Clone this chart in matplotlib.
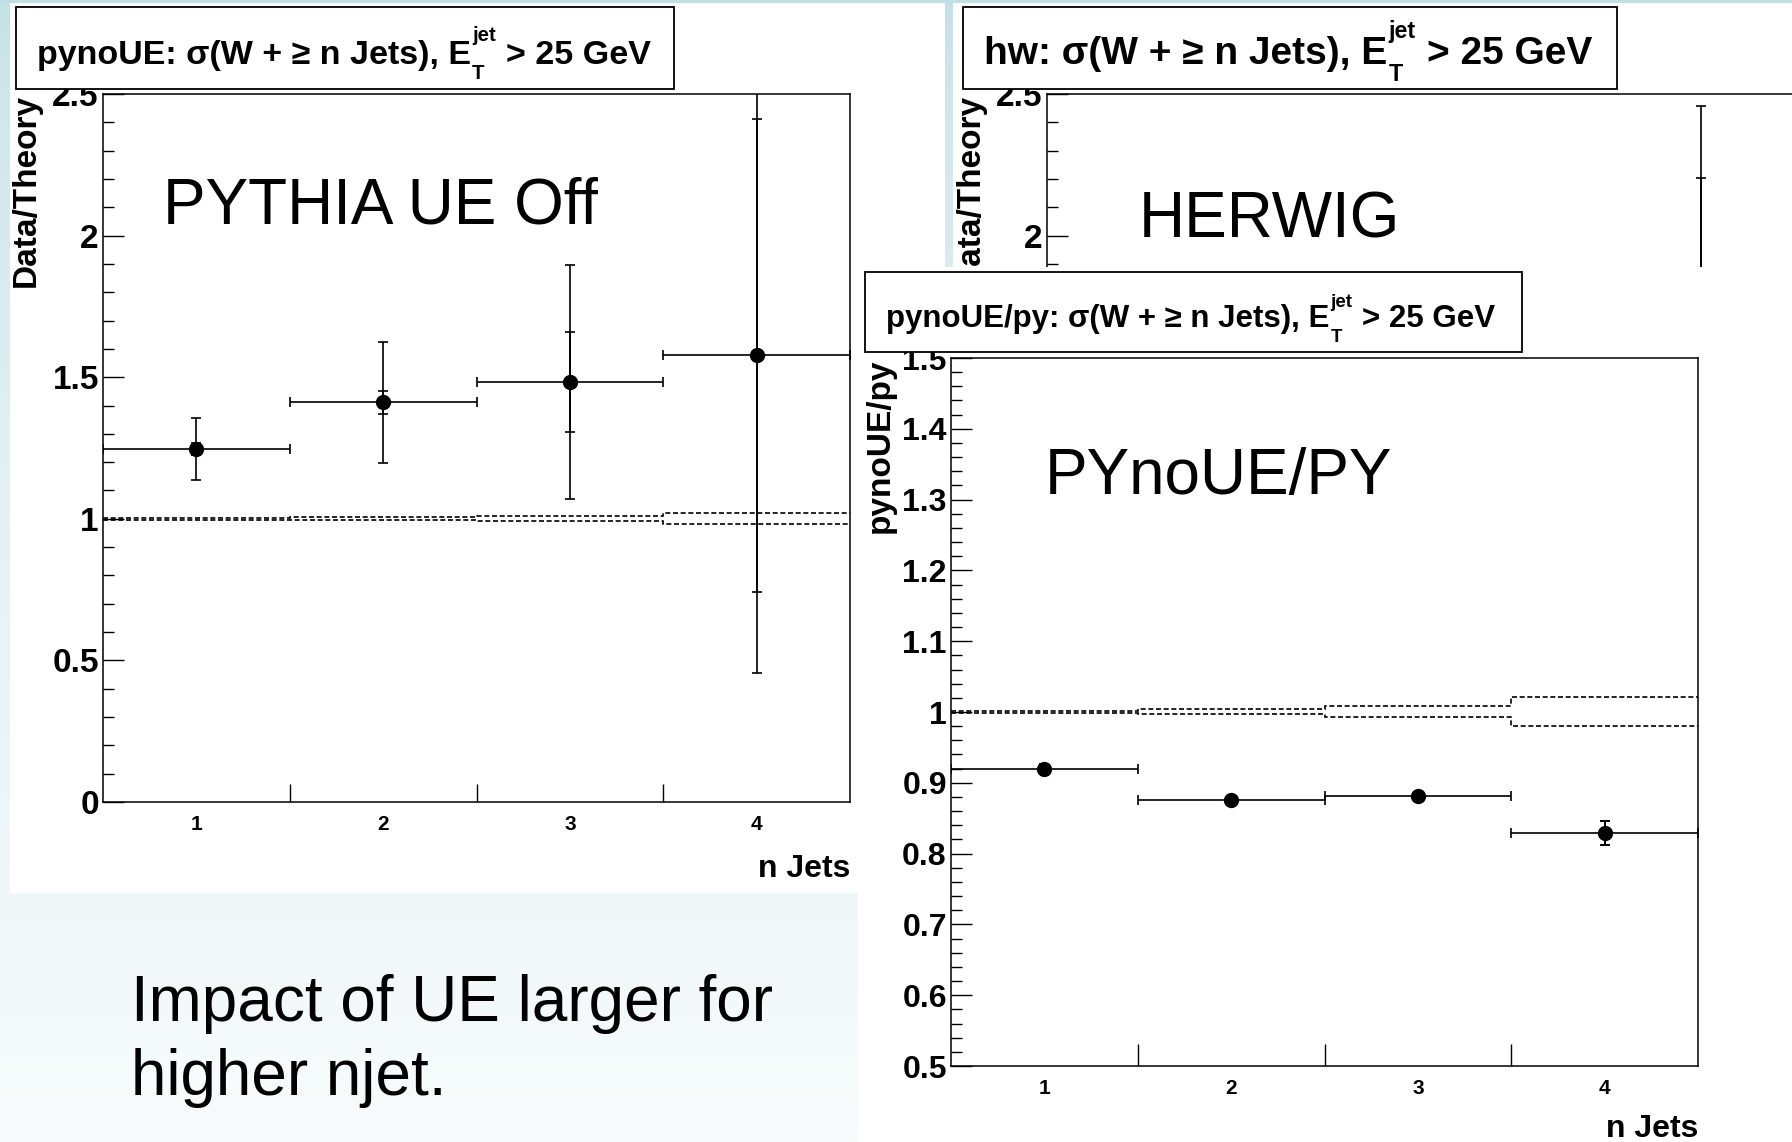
import matplotlib
matplotlib.use('Agg')
import numpy as np
import matplotlib.pyplot as plt
from matplotlib.patches import Rectangle
from matplotlib.ticker import MultipleLocator

W, H = 1792, 1142

# n-jet bins
n_jets = [1, 2, 3, 4]
bin_edges = [0.5, 1.5, 2.5, 3.5, 4.5]
jet_labels = ['1', '2', '3', '4']

# pynoUE: Data/Theory
pyno_ratio = [1.246, 1.411, 1.484, 1.577]
pyno_stat = [0.02, 0.04, 0.177, 0.835]
pyno_tot = [0.109, 0.213, 0.413, 1.121]
pyno_band_hi = [1.003, 1.005, 1.011, 1.020]
pyno_band_lo = [0.997, 0.995, 0.993, 0.980]

# hw: only the 4-jet bar sticks out above the overlaid plot
hw_n = [4]
hw_ratio = [1.80]
hw_stat = [0.404]
hw_tot = [0.656]

# pynoUE/py
ue_ratio = [0.919, 0.876, 0.881, 0.829]
ue_err = [0.007, 0.006, 0.005, 0.017]
ue_band_hi = [1.0015, 1.0047, 1.0085, 1.021]
ue_band_lo = [0.998, 0.9967, 0.9934, 0.980]

big_ticks = [0, 0.5, 1, 1.5, 2, 2.5]
big_labels = ['0', '0.5', '1', '1.5', '2', '2.5']
ue_ticks = [0.5, 0.6, 0.7, 0.8, 0.9, 1.0, 1.1, 1.2, 1.3, 1.4, 1.5]
ue_labels = ['0.5', '0.6', '0.7', '0.8', '0.9', '1', '1.1', '1.2', '1.3', '1.4', '1.5']

plt.rcParams['font.family'] = ['Liberation Sans', 'DejaVu Sans']
plt.rcParams['font.weight'] = 'bold'

fig = plt.figure(figsize=(W / 100, H / 100), dpi=100)


def frac(x0, y0, x1, y1):
    return [x0 / W, 1 - y1 / H, (x1 - x0) / W, (y1 - y0) / H]


def box(x0, y0, x1, y1, z, edge='none', lw=1.3, color='white'):
    r = Rectangle((x0 / W, 1 - y1 / H), (x1 - x0) / W, (y1 - y0) / H,
                  transform=fig.transFigure, facecolor=color, edgecolor=edge,
                  linewidth=lw, zorder=z)
    fig.add_artist(r)


def title_box(x0, y0, x1, y1, head, size, z):
    box(x0, y0, x1, y1, z, edge='black')
    rend = fig.canvas.get_renderer()
    em = size * 100 / 72
    xb = x0 + 21
    yb = y0 + 0.69 * (y1 - y0)
    t1 = fig.text(xb / W, 1 - yb / H, head + ' \u03c3(W + \u2265 n Jets), E',
                  fontsize=size, zorder=z + 0.1)
    xe = t1.get_window_extent(rend).x1 + 1
    small = size * 0.6
    ts = fig.text(xe / W, 1 - (yb + 0.46 * em) / H, 'T', fontsize=small, zorder=z + 0.1)
    tu = fig.text(xe / W, 1 - (yb - 0.66 * em) / H, 'jet', fontsize=small, zorder=z + 0.1)
    xr = max(ts.get_window_extent(rend).x1, tu.get_window_extent(rend).x1)
    fig.text((xr + 0.3 * em) / W, 1 - yb / H, '> 25 GeV', fontsize=size, zorder=z + 0.1)


def root_axes(rect, z, ylim, ticks, labels, minor, ylabel, ysize, xtick_len, ylabel_x, xlabel_y):
    ax = fig.add_axes(frac(*rect))
    ax.set_zorder(z)
    ax.set_facecolor('white')
    ax.set_xlim(0.5, 4.5)
    ax.set_ylim(*ylim)
    ax.set_xticks([1.5, 2.5, 3.5])
    ax.set_xticklabels([])
    ax.set_xticks(n_jets, minor=True)
    ax.set_xticklabels(jet_labels, minor=True)
    ax.tick_params(axis='x', which='major', direction='in', length=xtick_len, width=1)
    ax.tick_params(axis='x', which='minor', length=0, pad=9, labelsize=15)
    ax.set_yticks(ticks)
    ax.set_yticklabels(labels)
    ax.yaxis.set_minor_locator(MultipleLocator(minor))
    ax.tick_params(axis='y', which='major', direction='in', length=15, width=1,
                   labelsize=ysize, pad=3)
    ax.tick_params(axis='y', which='minor', direction='in', length=8, width=1)
    for s in ax.spines.values():
        s.set_linewidth(1.1)
    ax.text(ylabel_x, 1.0, ylabel, rotation=90, ha='center', va='top',
            transform=ax.transAxes, fontsize=24)
    ax.text(1.0, xlabel_y, 'n Jets', ha='right', va='top', transform=ax.transAxes, fontsize=23)
    return ax


def data_points(ax, x, y, stat, tot):
    ax.errorbar(x, y, yerr=tot, xerr=0.5, fmt='o', color='black', ms=10,
                capsize=3.5, elinewidth=1.2, capthick=1.2)
    if stat is not None:
        ax.errorbar(x, y, yerr=stat, fmt='none', ecolor='black', capsize=3.5,
                    elinewidth=1.2, capthick=1.2)


def band(ax, hi, lo):
    for v in (hi, lo):
        ax.stairs(v, bin_edges, baseline=None, color='black', linewidth=1.2,
                  linestyle=(0, (3, 1.6)))


# slide background
bg = fig.add_axes([0, 0, 1, 1])
bg.set_zorder(-10)
top = np.array([0.76, 0.88, 0.90])
bot = np.array([0.97, 0.985, 0.99])
t = np.linspace(0, 1, 256) ** 0.6
grad = (top[None, :] * (1 - t[:, None]) + bot[None, :] * t[:, None])[:, None, :]
bg.imshow(grad, extent=[0, 1, 0, 1], aspect='auto')
bg.axis('off')

# left: PYTHIA UE off
box(10, 3, 945, 893, 1)
ax1 = root_axes((103, 94, 850, 802), 2, (0, 2.5), big_ticks, big_labels, 0.1,
                'Data/Theory', 24, 13, -0.103, -0.073)
band(ax1, pyno_band_hi, pyno_band_lo)
data_points(ax1, n_jets, pyno_ratio, pyno_stat, pyno_tot)
title_box(16, 7, 674, 89, 'pynoUE:', 24.5, 3)
fig.text(163 / W, 1 - 223 / H, 'PYTHIA UE Off', fontsize=46, weight='normal', zorder=2.5)
fig.text(131 / W, 1 - 1021 / H, 'Impact of UE larger for', fontsize=46, weight='normal', zorder=3)
fig.text(131 / W, 1 - 1095 / H, 'higher njet.', fontsize=46, weight='normal', zorder=3)

# middle: HERWIG (mostly hidden)
box(953, 3, 1792, 893, 4)
ax2 = root_axes((1047, 94, 1794, 802), 5, (0, 2.5), big_ticks, big_labels, 0.1,
                'Data/Theory', 24, 13, -0.103, -0.073)
data_points(ax2, hw_n, hw_ratio, hw_stat, hw_tot)
title_box(963, 7, 1617, 89, 'hw:', 28, 6)
fig.text(1139 / W, 1 - 238 / H, 'HERWIG', fontsize=46, weight='normal', zorder=5.5)

# front: pynoUE / py
box(858, 267, 1792, 1142, 7)
ax3 = root_axes((951, 358, 1698, 1066), 8, (0.5, 1.5), ue_ticks, ue_labels, 0.02,
                'pynoUE/py', 23, 16, -0.095, -0.068)
band(ax3, ue_band_hi, ue_band_lo)
data_points(ax3, n_jets, ue_ratio, ue_err, ue_err)
title_box(865, 272, 1522, 352, 'pynoUE/py:', 22.5, 9)
fig.text(1045 / W, 1 - 494 / H, 'PYnoUE/PY', fontsize=46, weight='normal', zorder=8.5)

fig.savefig('out.png', dpi=100)
